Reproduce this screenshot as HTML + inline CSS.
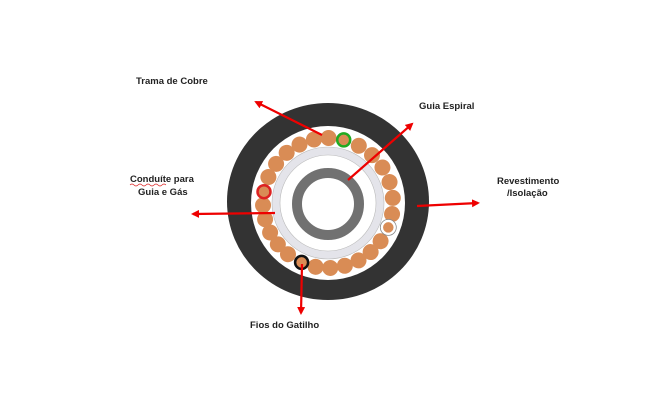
<!DOCTYPE html>
<html><head><meta charset="utf-8"><style>
html,body{margin:0;padding:0;background:#fff;}
svg{display:block;}
text{font-family:"Liberation Sans",sans-serif;font-size:9.5px;font-weight:bold;fill:#222;}
</style></head><body>
<svg width="646" height="417" viewBox="0 0 646 417" xmlns="http://www.w3.org/2000/svg">
<defs>
<circle id="b" cx="328" cy="138" r="8" fill="#d98c55"/>
<marker id="ah" markerWidth="8" markerHeight="8" refX="6" refY="4" orient="auto" markerUnits="userSpaceOnUse"><path d="M0,0 L8,4 L0,8 z" fill="#e00"/></marker>
</defs>
<ellipse cx="328" cy="201.5" rx="101" ry="98.5" fill="#333"/>
<circle cx="328" cy="203" r="77" fill="#fff"/>
<g>
<use href="#b" transform="rotate(28.3 328 203)"/>
<use href="#b" transform="rotate(42.6 328 203)"/>
<use href="#b" transform="rotate(56.9 328 203)"/>
<use href="#b" transform="rotate(71.2 328 203)"/>
<use href="#b" transform="rotate(85.5 328 203)"/>
<use href="#b" transform="rotate(99.8 328 203)"/>
<use href="#b" transform="rotate(126 328 203)"/>
<use href="#b" transform="rotate(139 328 203)"/>
<use href="#b" transform="rotate(152 328 203)"/>
<use href="#b" transform="rotate(165 328 203)"/>
<use href="#b" transform="rotate(178 328 203)"/>
<use href="#b" transform="rotate(191 328 203)"/>
<use href="#b" transform="rotate(218 328 203)"/>
<use href="#b" transform="rotate(230.5 328 203)"/>
<use href="#b" transform="rotate(243 328 203)"/>
<use href="#b" transform="rotate(255.5 328 203)"/>
<use href="#b" transform="rotate(268 328 203)"/>
<use href="#b" transform="rotate(293.5 328 203)"/>
<use href="#b" transform="rotate(307 328 203)"/>
<use href="#b" transform="rotate(320.5 328 203)"/>
<use href="#b" transform="rotate(334 328 203)"/>
<use href="#b" transform="rotate(347.5 328 203)"/>
<use href="#b" transform="rotate(0.5 328 203)"/>
</g>
<circle cx="343.7" cy="139.9" r="6.5" fill="#d98c55" stroke="#2a2" stroke-width="2.5"/>
<circle cx="264" cy="191.7" r="6.5" fill="#d98c55" stroke="#d22" stroke-width="2.5"/>
<circle cx="388.3" cy="227.4" r="6.5" fill="#d98c55" stroke="#fff" stroke-width="2.5"/>
<circle cx="388.3" cy="227.4" r="8" fill="none" stroke="#888" stroke-width="0.8"/>
<circle cx="301.6" cy="262.4" r="6.5" fill="#d98c55" stroke="#111" stroke-width="2.5"/>
<circle cx="328" cy="203" r="52" fill="none" stroke="#e4e4ea" stroke-width="8"/>
<circle cx="328" cy="203" r="56" fill="none" stroke="#bbb" stroke-width="0.6"/>
<circle cx="328" cy="203" r="48" fill="none" stroke="#bbb" stroke-width="0.6"/>
<circle cx="328" cy="204" r="31" fill="none" stroke="#717171" stroke-width="10"/>
<g stroke="#e00" stroke-width="2.2" fill="none">
<line x1="322" y1="135" x2="256" y2="102" marker-end="url(#ah)"/>
<line x1="348" y1="180" x2="412" y2="124" marker-end="url(#ah)"/>
<line x1="417" y1="206" x2="478" y2="203" marker-end="url(#ah)"/>
<line x1="275" y1="213" x2="193" y2="214" marker-end="url(#ah)"/>
<line x1="302" y1="264" x2="301" y2="313" marker-end="url(#ah)"/>
</g>
<text x="136" y="84">Trama de Cobre</text>
<text x="419" y="109">Guia Espiral</text>
<text x="497" y="184">Revestimento</text>
<text x="507" y="196">/Isolação</text>
<text x="130" y="182">Conduíte  para</text>
<text x="138" y="195">Guia e Gás</text>
<path d="M130,185 q2,-2 4,0 t4,0 t4,0 t4,0 t4,0 t4,0 t4,0 t4,0 t4,0" stroke="#d22" stroke-width="0.6" fill="none"/>
<text x="250" y="328">Fios do Gatilho</text>
</svg>
</body></html>
